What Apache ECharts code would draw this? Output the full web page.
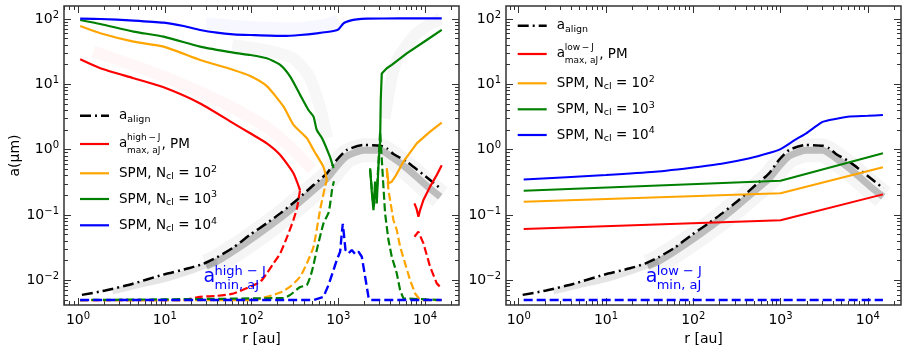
<!DOCTYPE html>
<html>
<head>
<meta charset="utf-8">
<script src="https://cdn.jsdelivr.net/npm/echarts@6/dist/echarts.min.js"></script>
<style>
  html, body { margin: 0; padding: 0; background: #fff; }
  #chart { width: 908px; height: 351px; }
</style>
</head>
<body>
<div id="chart"></div>
<script>
// values: r in au, a in micron
const xMajor = [1, 10, 100, 1000, 10000]
const yMajor = [0.01, 0.1, 1, 10, 100]

// a_align (same curve in both panels)
const rAlign = [1.11, 2.06, 4.19, 9.27, 18.8, 28, 39.9, 62, 96.6, 150, 214, 333, 518, 739, 964, 1257, 1950, 3040, 3620, 4320, 6150, 11420, 15000]
const aAlign = [0.006, 0.007, 0.0088, 0.0121, 0.0153, 0.018, 0.0225, 0.032, 0.05, 0.075, 0.106, 0.17, 0.288, 0.435, 0.70, 0.99, 1.18, 1.15, 1.05, 0.86, 0.655, 0.343, 0.256]
// grey ensemble band under a_align (faint part, then dark part)
const rBandFaint = [2.5, 5, 10, 20, 40]
const aBandFaint = [0.0068, 0.0085, 0.0105, 0.014, 0.0195]
const rBand = [30, 40, 62, 100, 214, 333, 518, 739, 964, 1257, 1950, 3040, 4320, 6150, 10450, 15000]
const aBand = [0.0165, 0.0195, 0.028, 0.043, 0.09, 0.145, 0.24, 0.36, 0.56, 0.8, 0.98, 0.98, 0.74, 0.52, 0.28, 0.19]

// left panel (high-J)
const rRedL = [1.06, 1.81, 4.37, 9.7, 25.6, 62, 96.6, 150, 214, 304, 362]
const aRedL = [24.1, 17.6, 12.4, 9.0, 5.1, 2.53, 1.78, 1.25, 0.83, 0.435, 0.24]
const rRedR = [7540, 8020, 8380, 8760, 9570, 11420, 13630, 15560]
const aRedR = [0.151, 0.122, 0.094, 0.119, 0.17, 0.272, 0.41, 0.58]
const rRedMinL = [1.06, 16.5, 25.6, 39.9, 62, 96.6, 126, 150, 179, 214, 255, 304, 335, 362]
const aRedMinL = [0.005, 0.005, 0.0056, 0.0058, 0.0063, 0.008, 0.0095, 0.0128, 0.0182, 0.0259, 0.045, 0.084, 0.13, 0.24]
const rRedMinR = [7540, 8380, 9570, 11420, 13630, 15560]
const aRedMinR = [0.0466, 0.0556, 0.0368, 0.0162, 0.009, 0.0075]

const rOrgL = [1.06, 1.81, 4.37, 9.7, 25.6, 62, 96.6, 150, 234, 305, 434, 518, 672, 739]
const aOrgL = [78, 60.4, 45, 37.7, 23.6, 16.6, 13.4, 9.4, 4.55, 2.39, 1.5, 0.99, 0.55, 0.344]
const rOrgR = [3620, 3784, 4130, 4520, 5626, 8020, 11420, 15560]
const aOrgR = [0.52, 0.305, 0.324, 0.386, 0.655, 1.25, 1.89, 2.59]
const rOrgMinL = [1.06, 105, 150, 214, 279, 363, 434, 518, 617, 703, 739]
const aOrgMinL = [0.005, 0.005, 0.0056, 0.0065, 0.008, 0.0114, 0.0182, 0.0328, 0.12, 0.27, 0.344]
const rOrgMinR = [3620, 3784, 4130, 4316, 4720, 5152, 5884, 6718, 7670, 8760, 15560]
const aOrgMinR = [0.49, 0.241, 0.119, 0.084, 0.059, 0.0328, 0.0182, 0.0101, 0.0063, 0.005, 0.005]

const rGrnL = [1.06, 1.81, 4.37, 9.7, 25.6, 62, 96.6, 150, 214, 279, 363, 453, 518, 565, 650, 800, 881]
const aGrnL = [96.5, 83.8, 64, 53.7, 37.7, 30.5, 28.1, 25, 19.8, 13.1, 6.9, 4.05, 3.2, 2.0, 1.5, 0.78, 0.52]
const rGrnR = [2326, 2430, 2542, 2655, 2775, 2900, 3033, 3085, 3170, 3620, 4130, 6150, 10450, 15560]
const aGrnR = [0.52, 0.228, 0.119, 0.324, 0.151, 0.55, 1.41, 5.76, 14.7, 17.6, 19.8, 29.8, 47.7, 68]
const rGrnMinL = [1.06, 234, 279, 363, 434, 495, 565, 675, 775, 850, 890]
const aGrnMinL = [0.005, 0.0054, 0.006, 0.0079, 0.0085, 0.0136, 0.0291, 0.0745, 0.11, 0.25, 0.33]
const rGrnMinR = [2326, 2542, 2775, 3033, 3311, 3460, 3784, 4130, 4720, 5152, 5626, 15560]
const aGrnMinR = [0.49, 0.134, 0.215, 1.88, 0.272, 0.106, 0.0414, 0.023, 0.0128, 0.0071, 0.0053, 0.005]

const rBluL = [1.06, 1.81, 4.37, 9.7, 16.5, 25.6, 39.9, 62, 96.6, 234, 363, 565, 880, 1005, 1148, 1369, 1634, 2130, 5152, 15560]
const aBluL = [101, 100, 94.7, 87.9, 78, 67.9, 61.7, 58.3, 56.9, 55, 56.9, 60.4, 65.5, 69.6, 86, 94.4, 98.8, 101, 102, 102]
const rBluMinL = [1.06, 518, 675, 771, 880, 961, 1050, 1097, 1127, 1168, 1210, 1309, 1430, 1563, 1708, 1866, 2037, 2225, 2326, 15560]
const aBluMinL = [0.005, 0.005, 0.0056, 0.0085, 0.0144, 0.0205, 0.0275, 0.0524, 0.073, 0.0466, 0.0291, 0.0259, 0.0291, 0.0253, 0.0275, 0.023, 0.0114, 0.0056, 0.005, 0.005]

// faint ensembles behind the left panel
const rHazeRed = [1.5, 10, 50, 150, 300, 500]
const aHazeRed = [32, 13, 5, 2.2, 1.0, 0.5]
const rHazeGreyL = [60, 150, 300, 450, 600, 750]
const aHazeGreyL = [40, 33, 25, 14, 5, 1.5]
const rHazeGreyR = [3400, 4500, 7000, 10000, 15000]
const aHazeGreyR = [3, 20, 50, 75, 100]
const rHazeBlue = [30, 100, 300, 700, 1000]
const aHazeBlue = [85, 75, 72, 82, 95]

// right panel (low-J)
const rRedLow = [1.14, 1000, 14900]
const aRedLow = [0.061, 0.083, 0.207]
const rOrgLow = [1.14, 1000, 14900]
const aOrgLow = [0.16, 0.215, 0.54]
const rGrnLow = [1.14, 1000, 14900]
const aGrnLow = [0.236, 0.335, 0.88]
const rBluLow = [1.14, 10, 36.5, 119, 211, 444, 720, 1000, 1450, 1970, 2930, 3650, 5900, 10000, 14900]
const aBluLow = [0.35, 0.41, 0.46, 0.55, 0.61, 0.74, 0.88, 1.02, 1.4, 1.78, 2.6, 2.84, 3.2, 3.3, 3.4]
const rBluMinLow = [1.14, 14900]
const aBluMinLow = [0.005, 0.005]

const FONT = 'DejaVu Sans'
const RED = '#ff0000', ORANGE = '#ffa500', GREEN = '#008000', BLUE = '#0000ff'

function minorOf(lo, hi) {
  let out = []
  for (let k = -3; k <= 4; k++) {
    for (let m = 2; m <= 9; m++) {
      let v = m * Math.pow(10, k)
      if (v > lo && v < hi) out.push(v)
    }
  }
  return out
}

function powLabel(v) {
  let e = Math.round(Math.log10(v))
  return '{b|10}{s|' + (e < 0 ? '\u2212' + (-e) : e) + '}'
}
const labelRich = {
  b: { fontSize: 14, fontFamily: FONT, color: '#000' },
  s: { fontSize: 10, fontFamily: FONT, color: '#000', padding: [0, 0, 8, 0] }
}
const tickColor = { color: '#333', width: 1 }

function axes(dim, g, min, max, major, withLabels, name) {
  let minor = minorOf(min, max)
  let sides = dim === 'x' ? ['bottom', 'top'] : ['left', 'right']
  let out = []
  sides.forEach(function (pos, i) {
    let common = {
      type: 'log', logBase: 10, gridIndex: g, position: pos, min: min, max: max,
      axisLine: { show: false }, splitLine: { show: false }
    }
    let main = Object.assign({}, common, {
      axisTick: { show: true, inside: true, length: 7, lineStyle: tickColor, customValues: major },
      axisLabel: { show: false }
    })
    if (i === 0 && withLabels) {
      main.axisLabel = {
        show: true, customValues: major, formatter: powLabel, rich: labelRich,
        margin: dim === 'x' ? 6 : 5
      }
      if (name) {
        main.name = name
        main.nameLocation = 'middle'
        main.nameGap = dim === 'x' ? 24 : 40
        main.nameTextStyle = { fontSize: 14, fontFamily: FONT, color: '#000' }
      }
    }
    let sub = Object.assign({}, common, {
      axisTick: { show: true, inside: true, length: 4, lineStyle: tickColor, customValues: minor },
      axisLabel: { show: false }
    })
    out.push(main, sub)
  })
  return out
}

function zip(r, a) {
  return r.map(function (v, i) { return [v, a[i]] })
}

// panel 0 uses axes 0, panel 1 uses axes 4
function line(panel, r, a, color, width, type, smooth) {
  return {
    type: 'line', xAxisIndex: panel * 4, yAxisIndex: panel * 4,
    data: zip(r, a), symbol: 'none', silent: true, smooth: smooth ? 0.2 : false,
    lineStyle: { color: color, width: width, type: type || 'solid' }
  }
}

const DASH = [8, 3.5]
const DASHDOT = [11, 4, 2, 4]
const HAZE = 12

let series = [
  line(0, rHazeRed, aHazeRed, 'rgba(255,0,0,0.03)', HAZE, null, true),
  line(0, rHazeGreyL, aHazeGreyL, 'rgba(0,0,0,0.03)', HAZE, null, true),
  line(0, rHazeGreyR, aHazeGreyR, 'rgba(0,0,0,0.035)', HAZE, null, true),
  line(0, rHazeBlue, aHazeBlue, 'rgba(0,0,255,0.03)', HAZE, null, true),
  line(0, rBand, aBand, 'rgba(0,0,0,0.04)', 24, null, true),
  line(0, rBandFaint, aBandFaint, 'rgba(40,40,40,0.12)', 6, null, true),
  line(0, rBand, aBand, 'rgba(40,40,40,0.27)', 7, null, true),
  line(0, rAlign, aAlign, '#000', 2.5, DASHDOT, true),
  line(0, rRedL, aRedL, RED, 2.2, null, true),
  line(0, rRedR, aRedR, RED, 2.2),
  line(0, rRedMinL, aRedMinL, RED, 2.2, DASH, true),
  line(0, rRedMinR, aRedMinR, RED, 2.2, DASH),
  line(0, rOrgL, aOrgL, ORANGE, 2.2, null, true),
  line(0, rOrgR, aOrgR, ORANGE, 2.2),
  line(0, rOrgMinL, aOrgMinL, ORANGE, 2.2, DASH, true),
  line(0, rOrgMinR, aOrgMinR, ORANGE, 2.2, DASH),
  line(0, rGrnL, aGrnL, GREEN, 2.2, null, true),
  line(0, rGrnR, aGrnR, GREEN, 2.2),
  line(0, rGrnMinL, aGrnMinL, GREEN, 2.2, DASH, true),
  line(0, rGrnMinR, aGrnMinR, GREEN, 2.2, DASH),
  line(0, rBluL, aBluL, BLUE, 2.2, null, true),
  line(0, rBluMinL, aBluMinL, BLUE, 2.4, [9, 4]),

  line(1, rBand, aBand, 'rgba(0,0,0,0.04)', 24, null, true),
  line(1, rBandFaint, aBandFaint, 'rgba(40,40,40,0.12)', 6, null, true),
  line(1, rBand, aBand, 'rgba(40,40,40,0.27)', 7, null, true),
  line(1, rAlign, aAlign, '#000', 2.5, DASHDOT, true),
  line(1, rRedLow, aRedLow, RED, 2),
  line(1, rOrgLow, aOrgLow, ORANGE, 2),
  line(1, rGrnLow, aGrnLow, GREEN, 2),
  line(1, rBluLow, aBluLow, BLUE, 2, null, true),
  line(1, rBluMinLow, aBluMinLow, BLUE, 2.4, [9, 4])
]

// legend + annotations drawn as graphic elements (stacked sub/superscripts)
const rich = {
  t: { fontSize: 13.5, fontFamily: FONT, color: '#000' },
  sub: { fontSize: 9.5, fontFamily: FONT, color: '#000', padding: [7, 0, 0, 0] },
  sup: { fontSize: 9.5, fontFamily: FONT, color: '#000', padding: [0, 0, 8, 0] }
}
function txt(x, y, text, size, color) {
  return {
    type: 'text', x: x, y: y, z: 100, silent: true,
    style: { text: text, fontSize: size, fontFamily: FONT, fill: color || '#000', verticalAlign: 'middle', align: 'left' }
  }
}
function richTxt(x, y, text) {
  return {
    type: 'text', x: x, y: y, z: 100, silent: true,
    style: { text: text, rich: rich, verticalAlign: 'middle', align: 'left' }
  }
}
function sample(x1, x2, y, color, width, dash) {
  return {
    type: 'line', z: 100, silent: true,
    shape: { x1: x1, y1: y, x2: x2, y2: y },
    style: { stroke: color, lineWidth: width, lineDash: dash || null }
  }
}
function legend(x0, rows, tag) {
  let lx1 = x0, lx2 = x0 + 29, tx = x0 + 39
  return [
    sample(lx1, lx2, rows[0], '#000', 2.5, DASHDOT),
    richTxt(tx, rows[0], '{t|a}{sub|align}'),
    sample(lx1, lx2, rows[1], RED, 2.2),
    txt(tx, rows[1] - 1, 'a', 13.5),
    txt(tx + 8, rows[1] - 6, tag, 9),
    txt(tx + 8, rows[1] + 6.5, 'max, aJ', 9),
    txt(tx + 42.5, rows[1], ', PM', 13.5),
    sample(lx1, lx2, rows[2], ORANGE, 2.2),
    richTxt(tx, rows[2], '{t|SPM, N}{sub|cl}{t| = 10}{sup|2}'),
    sample(lx1, lx2, rows[3], GREEN, 2.2),
    richTxt(tx, rows[3], '{t|SPM, N}{sub|cl}{t| = 10}{sup|3}'),
    sample(lx1, lx2, rows[4], BLUE, 2.2),
    richTxt(tx, rows[4], '{t|SPM, N}{sub|cl}{t| = 10}{sup|4}')
  ]
}
function note(x, tag) {
  return [
    txt(x, 277, 'a', 19, BLUE),
    txt(x + 11, 271.5, tag, 13, BLUE),
    txt(x + 11, 285.5, 'min, aJ', 13, BLUE)
  ]
}

let graphics = []
  .concat(legend(80, [115.7, 144, 173.3, 199, 225.3], 'high\u2009\u2212\u2009J'))
  .concat(legend(517.7, [25.7, 54, 83.3, 109.3, 135], 'low\u2009\u2212\u2009J'))
  .concat(note(203.5, 'high \u2212 J'))
  .concat(note(645.7, 'low \u2212 J'))

let chart = echarts.init(document.getElementById('chart'))
chart.setOption({
  animation: false,
  backgroundColor: '#fff',
  grid: [
    { left: 64, top: 6, width: 395, height: 299, show: true, borderColor: '#333', borderWidth: 1.5, backgroundColor: 'transparent', outerBoundsMode: 'none' },
    { left: 506, top: 6, width: 395, height: 299, show: true, borderColor: '#333', borderWidth: 1.5, backgroundColor: 'transparent', outerBoundsMode: 'none' }
  ],
  xAxis: axes('x', 0, 0.69, 24600, xMajor, true, 'r [au]')
    .concat(axes('x', 1, 0.715, 24000, xMajor, true, 'r [au]')),
  yAxis: axes('y', 0, 0.0042, 158, yMajor, true, 'a(\u03bcm)')
    .concat(axes('y', 1, 0.0042, 158, yMajor, true, null)),
  series: series,
  graphic: { elements: graphics }
})
</script>
</body>
</html>
